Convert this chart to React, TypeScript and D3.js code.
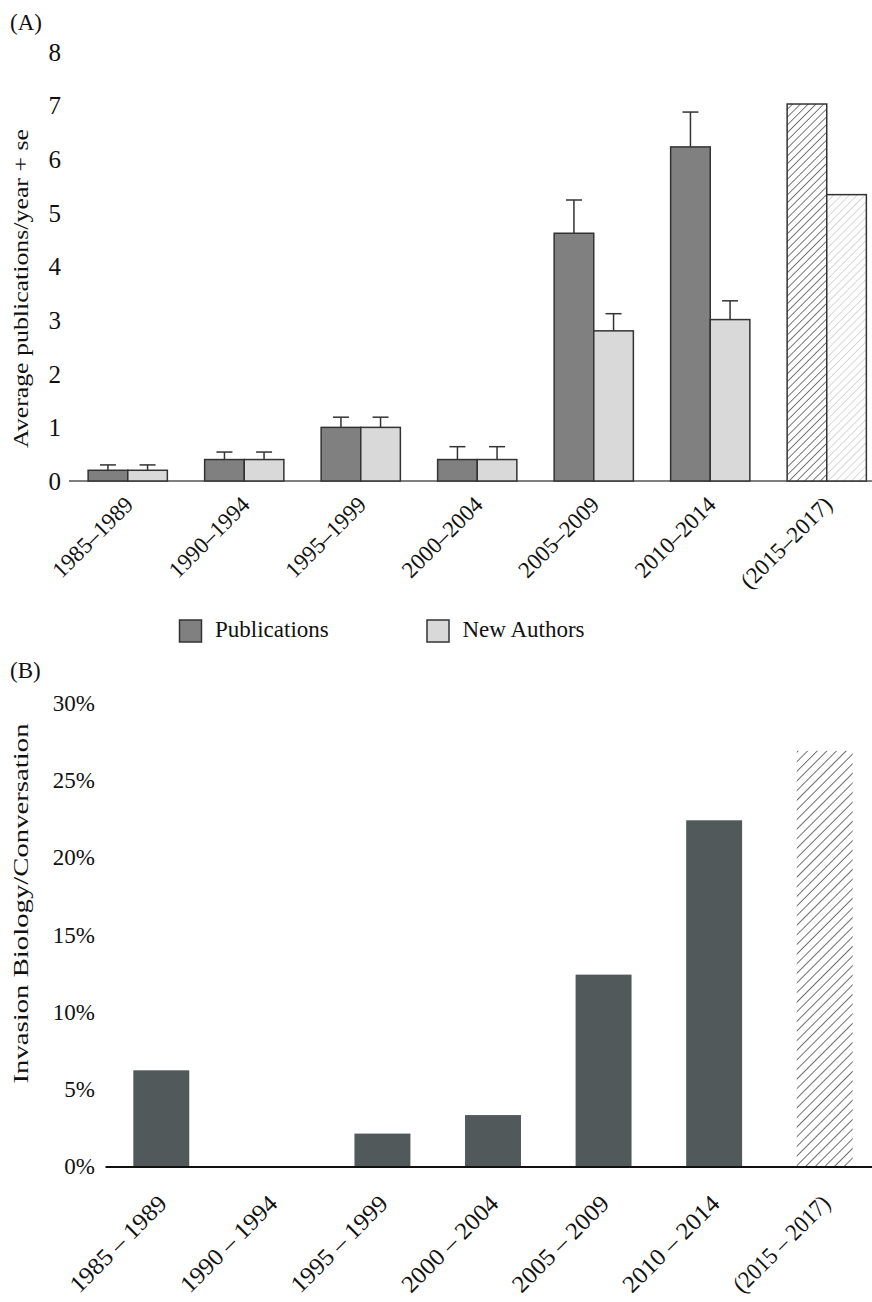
import React from "react";
import * as d3 from "d3";

// ---- data ----
const periodsA = ["1985–1989", "1990–1994", "1995–1999", "2000–2004", "2005–2009", "2010–2014", "(2015–2017)"];
const periodsB = ["1985 – 1989", "1990 – 1994", "1995 – 1999", "2000 – 2004", "2005 – 2009", "2010 – 2014", "(2015 – 2017)"];
const publications = [0.2, 0.4, 1.0, 0.4, 4.62, 6.23, 7.03];
const publicationsSe = [0.1, 0.14, 0.19, 0.24, 0.62, 0.65, null];
const newAuthors = [0.2, 0.4, 1.0, 0.4, 2.8, 3.01, 5.34];
const newAuthorsSe = [0.1, 0.14, 0.19, 0.24, 0.32, 0.35, null];
const projectedPeriod = "(2015–2017)";
const projectedPeriodB = "(2015 – 2017)";
const ticksA = [0, 1, 2, 3, 4, 5, 6, 7, 8];
const invasionShare = [6.2, 0, 2.1, 3.3, 12.4, 22.4, 26.9];
const ticksB = [0, 5, 10, 15, 20, 25, 30];
const seriesA = ["Publications", "New Authors"];

const FONT = '"Liberation Serif", "Times New Roman", Times, serif';

export default function App() {
  // Panel A scales
  const yA = d3.scaleLinear().domain([0, 8]).range([481, 52]);
  const xA = d3.scaleBand<string>().domain(periodsA).range([69.5, 885]).paddingInner(0.32).paddingOuter(0.16);
  const xInner = d3.scaleBand<string>().domain(seriesA).range([0, xA.bandwidth()]);
  const fillA = ["#808080", "#d9d9d9"];
  const hatchA = ["url(#hatchDark)", "url(#hatchLight)"];

  // Panel B scales
  const yB = d3.scaleLinear().domain([0, 30]).range([1166, 703]);
  const xB = d3.scaleBand<string>().domain(periodsB).range([106, 880]).paddingInner(0.494).paddingOuter(0.247);

  const seriesVals = [publications, newAuthors];
  const seriesSe = [publicationsSe, newAuthorsSe];
  const ts = { fontFamily: FONT };

  return (
    <svg width={872} height={1302} style={{ position: "absolute", left: 0, top: 0, background: "#fff", fontFamily: FONT }}>
      <defs>
        <pattern id="hatchDark" width={5.5} height={5.5} patternUnits="userSpaceOnUse" patternTransform="rotate(45)">
          <rect width={5.5} height={5.5} fill="#fff" />
          <line x1={0} y1={0} x2={0} y2={5.5} stroke="#333" strokeWidth={1.3} />
        </pattern>
        <pattern id="hatchLight" width={5.5} height={5.5} patternUnits="userSpaceOnUse" patternTransform="rotate(45)">
          <rect width={5.5} height={5.5} fill="#fff" />
          <line x1={0} y1={0} x2={0} y2={5.5} stroke="#c4c4c4" strokeWidth={1.3} />
        </pattern>
        <pattern id="hatchB" width={6.8} height={6.8} patternUnits="userSpaceOnUse" patternTransform="rotate(45)">
          <rect width={6.8} height={6.8} fill="#fff" />
          <line x1={0} y1={0} x2={0} y2={6.8} stroke="#333" strokeWidth={1.4} />
        </pattern>
      </defs>

      {/* ---------- Panel A ---------- */}
      <text x={10} y={30} fontSize={23} fill="#111" style={ts}>(A)</text>
      {ticksA.map((t) => (
        <text key={t} x={61} y={yA(t)} dy="0.35em" textAnchor="end" fontSize={25} fill="#111" style={ts}>{t}</text>
      ))}
      <text
        transform={`translate(28,${288.5}) rotate(-90)`}
        textAnchor="middle"
        fontSize={21}
        textLength={319}
        lengthAdjust="spacingAndGlyphs"
        fill="#111"
        style={ts}
      >Average publications/year + se</text>
      <line x1={69} x2={872} y1={yA(0)} y2={yA(0)} stroke="#555" strokeWidth={1.6} />
      {periodsA.map((p, i) => (
        <g key={p} transform={`translate(${xA(p)},0)`}>
          {seriesA.map((s, k) => {
            const v = seriesVals[k][i];
            const se = seriesSe[k][i];
            const bx = xInner(s)!;
            const bw = xInner.bandwidth();
            const projected = p === projectedPeriod;
            return (
              <g key={s}>
                <rect x={bx} y={yA(v)} width={bw} height={yA(0) - yA(v)} fill={projected ? hatchA[k] : fillA[k]} stroke="#333" strokeWidth={1.5} />
                {se != null && (
                  <g stroke="#333" strokeWidth={1.5}>
                    <line x1={bx + bw / 2} x2={bx + bw / 2} y1={yA(v)} y2={yA(v + se)} />
                    <line x1={bx + bw / 2 - 8} x2={bx + bw / 2 + 8} y1={yA(v + se)} y2={yA(v + se)} />
                  </g>
                )}
              </g>
            );
          })}
        </g>
      ))}
      {periodsA.map((p) => (
        <text
          key={p}
          transform={`translate(${xA(p)! + xA.bandwidth() / 2 + 7},${506}) rotate(-45)`}
          textAnchor="end"
          fontSize={23}
          fill="#111"
          style={ts}
        >{p}</text>
      ))}

      {/* legend */}
      {seriesA.map((s, k) => {
        const lx = [179.5, 427][k];
        return (
          <g key={s}>
            <rect x={lx} y={620} width={22} height={22} fill={fillA[k]} stroke="#333" strokeWidth={1.5} />
            <text x={lx + 35.5} y={637} fontSize={23} fill="#111" style={ts}>{s}</text>
          </g>
        );
      })}

      {/* ---------- Panel B ---------- */}
      <text x={10} y={678} fontSize={23} fill="#111" style={ts}>(B)</text>
      {ticksB.map((t) => (
        <text key={t} x={95} y={yB(t)} dy="0.35em" textAnchor="end" fontSize={23} fill="#111" style={ts}>{t}%</text>
      ))}
      <text
        transform={`translate(28,${903.5}) rotate(-90)`}
        textAnchor="middle"
        fontSize={22}
        textLength={360}
        lengthAdjust="spacingAndGlyphs"
        fill="#111"
        style={ts}
      >Invasion Biology/Conversation</text>
      {periodsB.map((p, i) => (
        <rect
          key={p}
          x={xB(p)}
          y={yB(invasionShare[i])}
          width={xB.bandwidth()}
          height={yB(0) - yB(invasionShare[i])}
          fill={p === projectedPeriodB ? "url(#hatchB)" : "#52595b"}
        />
      ))}
      <line x1={105.5} x2={872} y1={yB(0) + 1} y2={yB(0) + 1} stroke="#111" strokeWidth={2} />
      {periodsB.map((p) => (
        <text
          key={p}
          transform={`translate(${xB(p)! + xB.bandwidth() / 2 + 7},${1205}) rotate(-45)`}
          textAnchor="end"
          fontSize={24}
          textLength={126}
          lengthAdjust="spacingAndGlyphs"
          fill="#111"
          style={ts}
        >{p}</text>
      ))}
    </svg>
  );
}
